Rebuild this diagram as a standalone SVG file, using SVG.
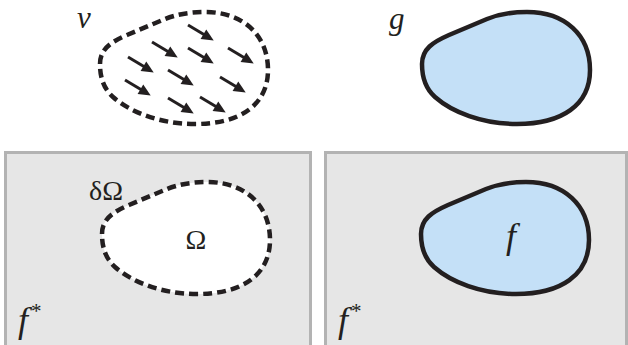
<svg xmlns="http://www.w3.org/2000/svg" width="628" height="345" viewBox="0 0 628 345">
<style>
.panel{fill:#e6e6e6;stroke:#b3b3b3;stroke-width:3}
.dash{fill:none;stroke:#231f20;stroke-width:4.5;stroke-dasharray:9 5}
.solid{fill:#c4e0f7;stroke:#231f20;stroke-width:4.5}
text{fill:#231f20;font-family:'Liberation Serif','Times New Roman',serif}
.it{font-style:italic}
</style>
<defs>
<path id="blob" d="M100,64 C100,49 111,42 127,35 L165,19 C175,15 188,12 205,12 C243,12 268,35 268,70 C268,105 240,124 195,124 C160,124 130,112 113,97 C104,89 100,78 100,64 Z"/>
<g id="arr" fill="#231f20" stroke="#231f20">
<line x1="0" y1="0" x2="21" y2="0" stroke-width="3"/>
<path d="M18,-5.5 L30,0 L18,5.5 Z" stroke="none"/>
</g>
</defs>
<g id="panel-left"><rect class="panel" x="5.5" y="152.5" width="305" height="200"/></g>
<g id="panel-right"><rect class="panel" x="325.5" y="152.5" width="301" height="200"/></g>
<g id="v-field">
<use href="#blob" class="dash"/>
<g id="arrows">
<use href="#arr" transform="translate(188,25) rotate(31)"/>
<use href="#arr" transform="translate(152,42) rotate(31)"/>
<use href="#arr" transform="translate(188,48) rotate(31)"/>
<use href="#arr" transform="translate(228,48) rotate(31)"/>
<use href="#arr" transform="translate(128,57) rotate(31)"/>
<use href="#arr" transform="translate(168,70) rotate(31)"/>
<use href="#arr" transform="translate(220,77) rotate(31)"/>
<use href="#arr" transform="translate(125,80) rotate(31)"/>
<use href="#arr" transform="translate(168,98) rotate(31)"/>
<use href="#arr" transform="translate(200,97) rotate(31)"/>
</g>
<text class="it" x="77" y="28" font-size="31">v</text>
</g>
<g id="g-region">
<use href="#blob" class="solid" transform="translate(322,0)"/>
<text class="it" x="389" y="29" font-size="31">g</text>
</g>
<g id="omega-region">
<use href="#blob" class="dash" style="fill:#ffffff" transform="translate(2,170)"/>
<text x="89" y="200" font-size="28">δΩ</text>
<text x="196" y="249" text-anchor="middle" font-size="28">Ω</text>
<text x="18" y="332" font-size="36"><tspan class="it">f</tspan><tspan dy="-14" dx="3" font-size="21">*</tspan></text>
</g>
<g id="f-region">
<use href="#blob" class="solid" transform="translate(321,170)"/>
<text class="it" x="511" y="248" text-anchor="middle" font-size="36">f</text>
<text x="338" y="332" font-size="36"><tspan class="it">f</tspan><tspan dy="-14" dx="3" font-size="21">*</tspan></text>
</g>
</svg>
